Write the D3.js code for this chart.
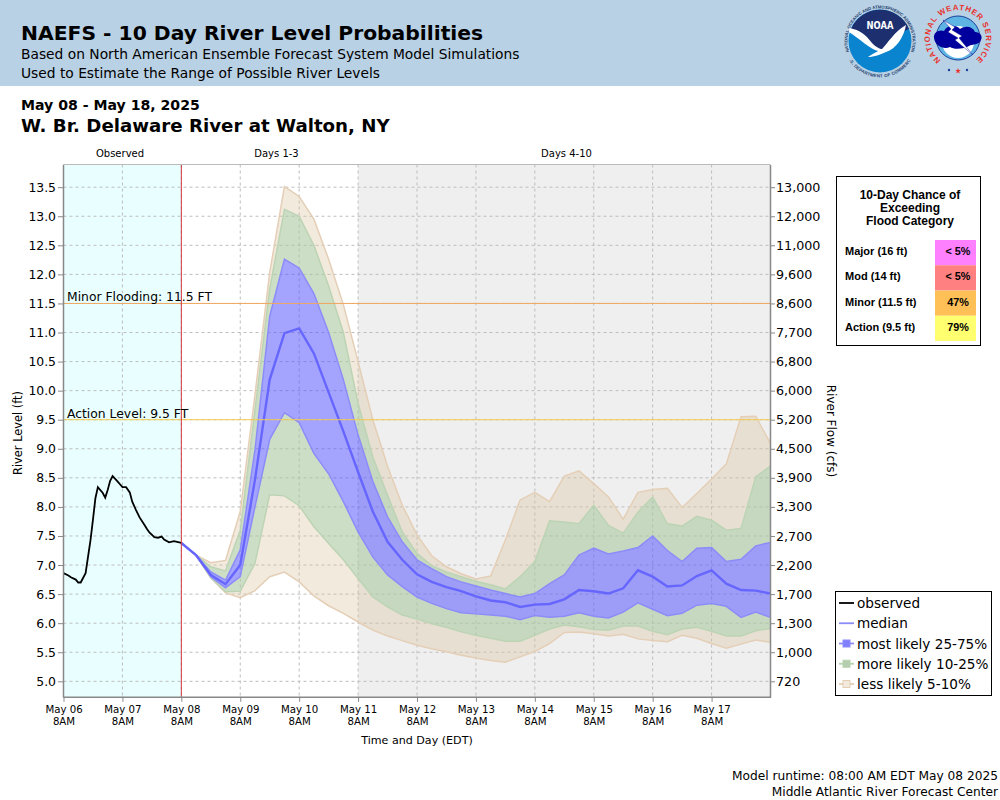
<!DOCTYPE html>
<html lang="en">
    <head>
        <meta charset="UTF-8">
        <title>NAEFS - 10 Day River Level Probabilities</title>
        <script src="https://d3js.org/d3.v7.min.js"></script>
        <style>
            body { margin: 0; background: white; }
            svg { display: block; }
            text { font-family: "DejaVu Sans", sans-serif; fill: black; }
            .box text { font-family: "Liberation Sans", sans-serif; font-weight: bold; }
            .axis path { stroke: #888; stroke-width: 1.5; }
            .axis line { stroke: #888; }
            .axis text { font-family: "DejaVu Sans", sans-serif; }
            .grid { stroke: #bdbdbd; stroke-dasharray: 3 3; stroke-width: 1; }
        </style>
    </head>
    <body>
        <script>
            // hours since May 06 8AM, river level in ft
            const obsHours = [0, 2, 3, 5, 6, 7, 9, 11, 12, 13, 14, 16, 17, 18, 19, 20, 22, 23, 24, 25.5, 27, 28, 29.5, 31, 33, 34, 35, 37, 38.5, 40, 41, 43, 45, 48]
            const obsLevel = [6.86, 6.82, 6.79, 6.75, 6.7, 6.7, 6.86, 7.43, 7.78, 8.15, 8.34, 8.24, 8.16, 8.29, 8.45, 8.53, 8.44, 8.39, 8.34, 8.34, 8.25, 8.09, 7.95, 7.82, 7.69, 7.62, 7.56, 7.48, 7.47, 7.49, 7.44, 7.39, 7.41, 7.38]

            // forecast values every 6 hours from May 08 8AM
            const p95 = [7.38, 7.17, 7.04, 7.08, 7.92, 9.93, 12.03, 13.51, 13.34, 12.95, 12.26, 11.48, 10.5, 9.5, 8.7, 8.03, 7.52, 7.16, 6.97, 6.85, 6.76, 6.81, 7.43, 8.12, 8.25, 8.09, 8.53, 8.62, 8.4, 8.17, 7.79, 8.25, 8.3, 8.32, 7.99, 8.23, 8.48, 8.74, 9.55, 9.56, 9.09]
            const p90 = [7.38, 7.17, 6.97, 6.9, 7.6, 9.67, 11.75, 13.12, 13.0, 12.5, 11.8, 11.0, 9.78, 8.86, 8.2, 7.57, 7.2, 6.99, 6.88, 6.8, 6.72, 6.66, 6.59, 6.8, 7.06, 7.76, 7.74, 7.71, 8.03, 7.68, 7.55, 7.91, 8.17, 7.71, 7.67, 7.84, 7.77, 7.6, 7.63, 8.52, 8.7]
            const p75 = [7.38, 7.17, 6.88, 6.74, 7.26, 8.98, 11.28, 12.26, 12.11, 11.67, 11.0, 10.19, 9.24, 8.44, 7.83, 7.4, 7.09, 6.94, 6.8, 6.71, 6.64, 6.57, 6.51, 6.45, 6.51, 6.68, 6.83, 7.17, 7.29, 7.19, 7.24, 7.3, 7.5, 7.25, 7.06, 7.29, 7.3, 7.06, 7.1, 7.33, 7.39]
            const median = [7.38, 7.17, 6.83, 6.67, 7.0, 8.47, 10.19, 10.99, 11.07, 10.64, 9.97, 9.3, 8.6, 7.92, 7.4, 7.09, 6.84, 6.71, 6.62, 6.55, 6.46, 6.39, 6.36, 6.28, 6.32, 6.33, 6.41, 6.57, 6.55, 6.51, 6.6, 6.91, 6.8, 6.63, 6.65, 6.81, 6.91, 6.68, 6.57, 6.56, 6.51]
            const p25 = [7.38, 7.17, 6.8, 6.61, 6.8, 8.0, 9.16, 9.62, 9.45, 8.92, 8.57, 8.09, 7.57, 7.14, 6.83, 6.63, 6.45, 6.34, 6.25, 6.18, 6.16, 6.14, 6.12, 6.06, 6.13, 6.1, 6.12, 6.18, 6.12, 6.09, 6.19, 6.35, 6.24, 6.13, 6.17, 6.31, 6.34, 6.29, 6.1, 6.19, 6.1]
            const p10 = [7.38, 7.17, 6.78, 6.54, 6.55, 7.03, 8.21, 8.19, 8.02, 7.66, 7.37, 7.09, 6.77, 6.45, 6.28, 6.14, 6.07, 5.99, 5.93, 5.85, 5.79, 5.74, 5.69, 5.69, 5.79, 5.9, 5.97, 5.94, 5.89, 5.88, 5.95, 5.95, 5.86, 5.8, 5.9, 5.93, 5.86, 5.78, 5.78, 5.87, 5.91]
            const p5 = [7.38, 7.17, 6.78, 6.52, 6.44, 6.56, 6.8, 6.88, 6.71, 6.47, 6.3, 6.17, 6.02, 5.88, 5.78, 5.7, 5.62, 5.56, 5.51, 5.45, 5.4, 5.36, 5.33, 5.42, 5.51, 5.65, 5.84, 5.85, 5.82, 5.78, 5.81, 5.73, 5.7, 5.68, 5.79, 5.74, 5.65, 5.57, 5.64, 5.71, 5.67]

            const levelTicks = [5, 5.5, 6, 6.5, 7, 7.5, 8, 8.5, 9, 9.5, 10, 10.5, 11, 11.5, 12, 12.5, 13, 13.5]
            const flowLabels = ["720", "1,000", "1,300", "1,700", "2,200", "2,700", "3,300", "3,900", "4,500", "5,200", "6,000", "6,800", "7,700", "8,600", "9,600", "11,000", "12,000", "13,000"]
            const dayHours = [0, 24, 48, 72, 96, 120, 144, 168, 192, 216, 240, 264]
            const dayLabels = ["May 06", "May 07", "May 08", "May 09", "May 10", "May 11", "May 12", "May 13", "May 14", "May 15", "May 16", "May 17"]

            const floodNames = ["Major (16 ft)", "Mod (14 ft)", "Minor (11.5 ft)", "Action (9.5 ft)"]
            const floodChance = ["< 5%", "< 5%", "47%", "79%"]
            const floodColors = ["#ff80ff", "#ff8080", "#ffc058", "#ffff70"]

            const legendNames = ["observed", "median", "most likely 25-75%", "more likely 10-25%", "less likely 5-10%"]

            const chartWidth = 1000
            const chartHeight = 800
            const plotL = 63.5, plotR = 770.5, plotT = 164.5, plotB = 697.3

            const svg = d3.select('body').append('svg')
                .attr('width', chartWidth)
                .attr('height', chartHeight)

            const x = d3.scaleLinear().domain([0, 288]).range([plotL, plotR])
            const y = d3.scaleLinear().domain([4.725, 13.89]).range([plotB, plotT])
            const fcstX = (d, i) => x(48 + i * 6)

            // header band
            svg.append('rect').attr('width', chartWidth).attr('height', 86).attr('fill', '#b9d1e4')
            svg.append('text').attr('x', 21).attr('y', 40).attr('font-size', 20.3).attr('font-weight', 'bold')
                .text('NAEFS - 10 Day River Level Probabilities')
            svg.append('text').attr('x', 21).attr('y', 59).attr('font-size', 13.8).attr('fill', '#111')
                .text('Based on North American Ensemble Forecast System Model Simulations')
            svg.append('text').attr('x', 21).attr('y', 78).attr('font-size', 13.8).attr('fill', '#111')
                .text('Used to Estimate the Range of Possible River Levels')
            svg.append('text').attr('x', 21).attr('y', 110).attr('font-size', 14.1).attr('font-weight', 'bold')
                .text('May 08 - May 18, 2025')
            svg.append('text').attr('x', 21).attr('y', 132).attr('font-size', 18.2).attr('font-weight', 'bold')
                .text('W. Br. Delaware River at Walton, NY')

            drawNoaa(svg.append('g').attr('transform', 'translate(880,41)'))
            drawNws(svg.append('g').attr('transform', 'translate(958,38)'))

            // plot background
            svg.append('rect').attr('x', x(0)).attr('y', plotT).attr('width', x(48) - x(0)).attr('height', plotB - plotT).attr('fill', '#e9ffff')
            svg.append('rect').attr('x', x(120)).attr('y', plotT).attr('width', x(288) - x(120)).attr('height', plotB - plotT).attr('fill', '#efefef')

            svg.selectAll('.gridX').data(dayHours).enter().append('line')
                .attr('class', 'grid')
                .attr('x1', d => x(d)).attr('x2', d => x(d))
                .attr('y1', plotT).attr('y2', plotB)
            svg.selectAll('.gridY').data(levelTicks).enter().append('line')
                .attr('class', 'grid')
                .attr('x1', plotL).attr('x2', plotR)
                .attr('y1', d => y(d)).attr('y2', d => y(d))

            // probability bands, outermost first
            const bands = [
                { hi: p95, lo: p90, fill: 'rgba(222,195,160,0.35)' },
                { hi: p10, lo: p5, fill: 'rgba(222,195,160,0.35)' },
                { hi: p90, lo: p75, fill: 'rgba(170,200,160,0.6)' },
                { hi: p25, lo: p10, fill: 'rgba(170,200,160,0.6)' },
                { hi: p75, lo: p25, fill: 'rgba(90,90,255,0.55)' }
            ]
            bands.forEach(b => {
                const area = d3.area().x(fcstX).y0((d, i) => y(b.lo[i])).y1(d => y(d))
                svg.append('path').attr('d', area(b.hi)).attr('fill', b.fill)
            })
            // upper and lower edges of each pair of bands
            const edges = [[p95, '#e4cfb6'], [p5, '#e4cfb6'], [p90, '#bcd4b4'], [p10, '#bcd4b4'], [p75, '#8c8cf8'], [p25, '#8c8cf8']]
            const fcstLine = d3.line().x(fcstX).y(d => y(d))
            edges.forEach(e => {
                svg.append('path').attr('d', fcstLine(e[0])).attr('fill', 'none').attr('stroke', e[1]).attr('stroke-width', 1.5)
            })
            svg.append('path').attr('d', fcstLine(median)).attr('fill', 'none').attr('stroke', '#6666ff').attr('stroke-width', 2.4)

            const obsLine = d3.line().x(d => x(d)).y((d, i) => y(obsLevel[i]))
            svg.append('path').attr('d', obsLine(obsHours)).attr('fill', 'none').attr('stroke', 'black').attr('stroke-width', 1.8)

            // flood levels and now line
            svg.append('line').attr('x1', plotL).attr('x2', plotR).attr('y1', y(11.5)).attr('y2', y(11.5)).attr('stroke', '#f0a860')
            svg.append('line').attr('x1', plotL).attr('x2', plotR).attr('y1', y(9.5)).attr('y2', y(9.5)).attr('stroke', '#f5cc50')
            svg.append('line').attr('x1', x(48)).attr('x2', x(48)).attr('y1', plotT).attr('y2', plotB).attr('stroke', '#d8343a')
            svg.append('text').attr('x', 67).attr('y', y(11.5) - 2).attr('font-size', 12.35).attr('fill', '#444').text('Minor Flooding: 11.5 FT')
            svg.append('text').attr('x', 67).attr('y', y(9.5) - 2).attr('font-size', 12.35).attr('fill', '#444').text('Action Level: 9.5 FT')

            // axes, d3 adds half a pixel to its own lines
            const axisLeft = svg.append('g').attr('class', 'axis').attr('transform', `translate(${plotL - 0.5},0)`)
                .call(d3.axisLeft(y).tickValues(levelTicks).tickFormat(d3.format('.1f')).tickSize(5).tickSizeOuter(0).tickPadding(2))
            axisLeft.selectAll('text').attr('font-size', 12.4)
            const axisRight = svg.append('g').attr('class', 'axis').attr('transform', `translate(${plotR - 0.5},0)`)
                .call(d3.axisRight(y).tickValues(levelTicks).tickFormat((d, i) => flowLabels[i]).tickSize(5).tickSizeOuter(0).tickPadding(1))
            axisRight.selectAll('text').attr('font-size', 12.7)
            const axisBottom = svg.append('g').attr('class', 'axis').attr('transform', `translate(0,${plotB - 0.5})`)
                .call(d3.axisBottom(x).tickValues(dayHours).tickFormat('').tickSize(5).tickSizeOuter(0))
            axisBottom.selectAll('.tick').append('text')
                .attr('y', 16).attr('fill', 'black').attr('font-size', 10.2)
                .text((d, i) => dayLabels[i])
            axisBottom.selectAll('.tick').append('text')
                .attr('y', 28).attr('fill', 'black').attr('font-size', 10.2)
                .text('8AM')
            svg.append('line').attr('x1', plotL).attr('x2', plotR).attr('y1', plotT).attr('y2', plotT).attr('stroke', '#bbb')

            svg.append('text').attr('transform', 'translate(22,433) rotate(-90)').attr('text-anchor', 'middle').attr('font-size', 11.4).text('River Level (ft)')
            svg.append('text').attr('transform', 'translate(827,431) rotate(90)').attr('text-anchor', 'middle').attr('font-size', 12).text('River Flow (cfs)')
            svg.append('text').attr('x', 417).attr('y', 744).attr('text-anchor', 'middle').attr('font-size', 11.1).text('Time and Day (EDT)')

            const sections = [['Observed', 120], ['Days 1-3', 276.5], ['Days 4-10', 566.5]]
            svg.selectAll('.section').data(sections).enter().append('text')
                .attr('x', d => d[1]).attr('y', 157).attr('text-anchor', 'middle').attr('font-size', 10)
                .text(d => d[0])

            // flood chance box
            const box = svg.append('g').attr('class', 'box')
            box.append('rect').attr('x', 836.5).attr('y', 176.5).attr('width', 144).attr('height', 169)
                .attr('fill', 'white').attr('stroke', 'black')
            const boxTitle = ['10-Day Chance of', 'Exceeding', 'Flood Category']
            box.selectAll('.title').data(boxTitle).enter().append('text')
                .attr('x', 910).attr('y', (d, i) => 199 + i * 13).attr('text-anchor', 'middle').attr('font-size', 12)
                .text(d => d)
            const rowY = d3.scaleBand().domain(floodNames).range([240, 341])
            box.selectAll('.cell').data(floodNames).enter().append('rect')
                .attr('x', 935).attr('width', 41)
                .attr('y', d => rowY(d)).attr('height', rowY.bandwidth())
                .attr('fill', (d, i) => floodColors[i])
            box.selectAll('.name').data(floodNames).enter().append('text')
                .attr('x', 845).attr('y', d => rowY(d) + 15).attr('font-size', 11)
                .text(d => d)
            box.selectAll('.chance').data(floodChance).enter().append('text')
                .attr('x', 958).attr('y', (d, i) => rowY(floodNames[i]) + 15).attr('text-anchor', 'middle').attr('font-size', 10.8)
                .text(d => d)

            // legend
            const legend = svg.append('g')
            legend.append('rect').attr('x', 835.5).attr('y', 591.5).attr('width', 156).attr('height', 104)
                .attr('fill', 'white').attr('stroke', 'black')
            const legendY = d3.scalePoint().domain(legendNames).range([603, 684])
            const legendLine = ['black', '#8c8cf8', '#8c8cf8', '#b4d4ac', '#e4cfb6']
            const legendSwatch = [null, null, '#8080ff', '#b4ccb0', '#f3e9dd']
            const rows = legend.selectAll('.row').data(legendNames).enter().append('g')
                .attr('transform', d => `translate(0,${legendY(d)})`)
            rows.append('line').attr('x1', 839).attr('x2', 854).attr('stroke-width', 1.8)
                .attr('stroke', (d, i) => legendLine[i])
            rows.filter((d, i) => legendSwatch[i]).append('rect')
                .attr('x', 843).attr('y', -3.5).attr('width', 7).attr('height', 7)
                .attr('fill', d => legendSwatch[legendNames.indexOf(d)])
                .attr('stroke', d => legendLine[legendNames.indexOf(d)])
            rows.append('text').attr('x', 857).attr('y', 5).attr('font-size', 13.6).attr('fill', '#111')
                .text(d => d)

            // footer
            svg.append('text').attr('x', 998).attr('y', 780).attr('text-anchor', 'end').attr('font-size', 12.2).text('Model runtime: 08:00 AM EDT May 08 2025')
            svg.append('text').attr('x', 998).attr('y', 796).attr('text-anchor', 'end').attr('font-size', 12.2).text('Middle Atlantic River Forecast Center')

            function circlePath(r, startDeg, endDeg, sweep) {
                const a0 = startDeg * Math.PI / 180, a1 = endDeg * Math.PI / 180
                const large = sweep ? ((endDeg - startDeg + 360) % 360 > 180 ? 1 : 0) : ((startDeg - endDeg + 360) % 360 > 180 ? 1 : 0)
                return `M${r * Math.sin(a0)},${-r * Math.cos(a0)}A${r},${r} 0 ${large} ${sweep ? 1 : 0} ${r * Math.sin(a1)},${-r * Math.cos(a1)}`
            }

            function ringText(g, id, d, label, size, fill, spacing) {
                g.append('path').attr('id', id).attr('d', d).attr('fill', 'none')
                g.append('text').attr('font-size', size).attr('fill', fill).attr('font-weight', 'bold')
                    .attr('font-family', '"Liberation Sans", sans-serif')
                    .style('font-family', '"Liberation Sans", sans-serif').style('fill', fill)
                    .attr('letter-spacing', spacing).attr('text-anchor', 'middle')
                    .append('textPath').attr('href', '#' + id).attr('startOffset', '50%').text(label)
            }

            function drawNoaa(g) {
                ringText(g, 'noaaTop', circlePath(32.6, -112, 112, true), 'NATIONAL OCEANIC AND ATMOSPHERIC ADMINISTRATION', 4.3, '#23406e', 0)
                ringText(g, 'noaaBottom', circlePath(36.4, -122, 122, false), 'U.S. DEPARTMENT OF COMMERCE', 4.4, '#23406e', 0.2)
                g.append('circle').attr('r', 31.5).attr('fill', '#0a84cf')
                g.append('path').attr('fill', '#1d2f6f')
                    .attr('d', 'M-29,-12A31.5,31.5 0 0 1 29,-12C18,-8 10,4 2,12C-4,10 -10,2 -16,-4C-20,-8 -25,-10 -29,-12Z')
                g.append('path').attr('fill', 'white')
                    .attr('d', 'M-30.5,-13C-20,-11 -14,-6 -8,2C-4,6 0,8 2,8C8,2 14,-9 26,-16C24,-4 16,8 6,11C0,14 -8,16 -12,16C-8,13 -3,11 -2,10C-10,8 -20,-2 -31,-9Z')
                g.append('text').attr('y', -12).attr('text-anchor', 'middle').attr('font-size', 10.5).attr('font-weight', 'bold')
                    .style('fill', 'white').attr('textLength', 27).attr('lengthAdjust', 'spacingAndGlyphs').text('NOAA')
            }

            function drawNws(g) {
                g.append('circle').attr('r', 22).attr('fill', '#5eb4e2').attr('stroke', '#1a3f9c')
                g.append('circle').attr('r', 16).attr('cy', 4).attr('fill', 'white')
                g.append('path').attr('fill', '#00009c')
                    .attr('d', 'M-24,0C-25,-6 -18,-9 -14,-7C-10,-14 -2,-13 2,-9C8,-13 15,-11 17,-6C22,-6 25,-2 23,2C22,7 14,6 11,8C6,11 -4,12 -8,9C-14,12 -23,8 -24,0Z')
                g.append('path').attr('fill', 'white').attr('stroke', '#00009c').attr('stroke-width', 0.4)
                    .attr('d', 'M-15,-18L-3,-11L-6,-8L4,-2L1,0L15,17L-3,2L0,0L-10,-6L-7,-9Z')
                ringText(g, 'nwsRing', circlePath(28, -155, 155, true), 'NATIONAL WEATHER SERVICE', 7.8, '#e8302c', 0.9)
                g.selectAll('.dot').data([-9, 9]).enter().append('circle')
                    .attr('cx', d => d).attr('cy', 32).attr('r', 1.2).attr('fill', '#1a3f9c')
                g.append('path').attr('transform', 'translate(0,33)')
                    .attr('d', d3.symbol().type(d3.symbolStar).size(10)).attr('fill', '#e8302c')
            }
        </script>
    </body>
</html>
